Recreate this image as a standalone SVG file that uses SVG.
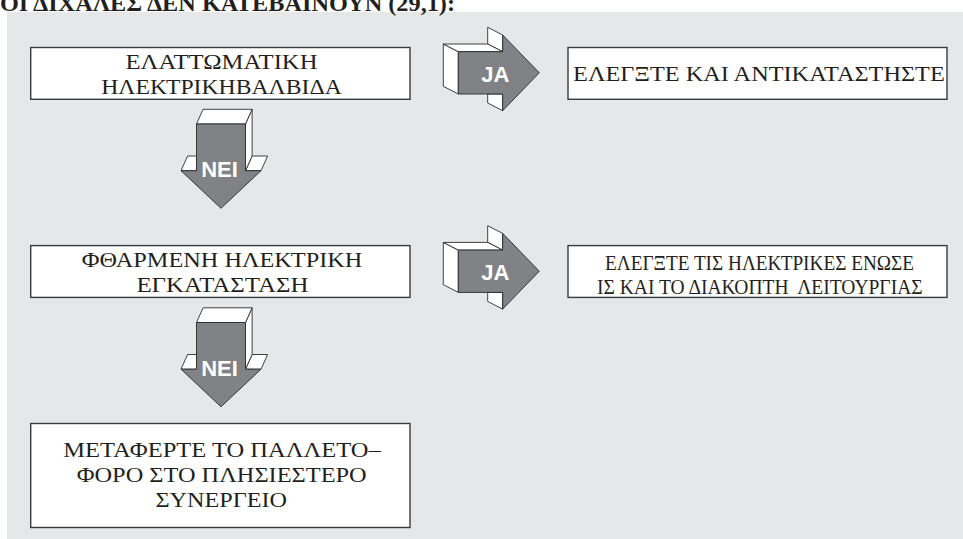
<svg xmlns="http://www.w3.org/2000/svg" width="963" height="539" viewBox="0 0 963 539">
<style>
.box{fill:#ffffff;stroke:#3a3a3a;stroke-width:1.4}
.t{font-family:"Liberation Serif","Times New Roman",serif;font-size:22px;fill:#231f20;text-anchor:middle}
.ts{font-family:"Liberation Serif","Times New Roman",serif;font-size:20px;fill:#231f20;text-anchor:middle;white-space:pre}
.front{fill:#808285;stroke:#2b2b2b;stroke-width:0.9;stroke-linejoin:miter}
.side{fill:#ffffff;stroke:#2b2b2b;stroke-width:0.9;stroke-linejoin:miter}
.lab{font-family:"Liberation Sans",Arial,sans-serif;font-weight:bold;font-size:22px;fill:#ffffff;text-anchor:middle}
.title{font-family:"Liberation Serif","Times New Roman",serif;font-weight:bold;font-size:24px;fill:#231f20}
</style>
<defs>
<g id="down">
<polygon class="side" points="181,170.7 187.6,156 196.5,156 196.5,170.7"/>
<polygon class="side" points="245.5,170.7 252.1,156 267.6,156 261,170.7"/>
<polygon class="side" points="245.5,124 252.1,109.3 252.1,156 245.5,170.7"/>
<polygon class="side" points="196.5,124 203.1,109.3 252.1,109.3 245.5,124"/>
<polygon class="front" points="196.5,124 245.5,124 245.5,170.7 261,170.7 221,208.3 181,170.7 196.5,170.7"/>
</g>
<g id="right">
<polygon class="side" points="502.7,35 487.7,27.3 487.7,44 502.7,51.7"/>
<polygon class="side" points="487.7,94 502.7,94 502.7,110.7 487.7,103"/>
<polygon class="side" points="458.3,51.7 443.3,44 443.3,86.3 458.3,94"/>
<polygon class="side" points="458.3,51.7 502.7,51.7 487.7,44 443.3,44"/>
<polygon class="front" points="458.3,51.7 502.7,51.7 502.7,35 539.3,72.8 502.7,110.7 502.7,94 458.3,94"/>
</g>
</defs>
<rect x="7" y="12" width="956" height="527" fill="#e6e7e8"/>
<text class="title" x="0" y="11" textLength="455" lengthAdjust="spacingAndGlyphs">ΟΙ ΔΙΧΑΛΕΣ ΔΕΝ ΚΑΤΕΒΑΙΝΟΥΝ (29,1):</text>
<g id="connectors">
<g id="arrow-nei-1"><use href="#down"/><text class="lab" x="219.5" y="177.3">NEI</text></g>
<g id="arrow-nei-2" transform="translate(0,198.5)"><use href="#down"/><text class="lab" x="219.5" y="177.3">NEI</text></g>
<g id="arrow-ja-1"><use href="#right"/><text class="lab" x="495.3" y="81.7">JA</text></g>
<g id="arrow-ja-2" transform="translate(0,198.4)"><use href="#right"/><text class="lab" x="495.3" y="81.7">JA</text></g>
</g>
<g id="node-valve">
<rect class="box" x="30.7" y="47.5" width="379.3" height="51.8"/>
<text class="t" x="221.5" y="68.7" textLength="192" lengthAdjust="spacingAndGlyphs">ΕΛΑΤΤΩΜΑΤΙΚΗ</text>
<text class="t" x="221.5" y="94" textLength="240.6" lengthAdjust="spacingAndGlyphs">ΗΛΕΚΤΡΙΚΗΒΑΛΒΙΔΑ</text>
</g>
<g id="node-replace">
<rect class="box" x="568" y="47.5" width="379" height="51.8"/>
<text class="t" x="758.9" y="80.8" textLength="371.7" lengthAdjust="spacingAndGlyphs">ΕΛΕΓΞΤΕ ΚΑΙ ΑΝΤΙΚΑΤΑΣΤΗΣΤΕ</text>
</g>
<g id="node-wiring">
<rect class="box" x="30.7" y="245.6" width="379.3" height="51.8"/>
<text class="t" x="222" y="266.7" textLength="280.7" lengthAdjust="spacingAndGlyphs">ΦΘΑΡΜΕΝΗ ΗΛΕΚΤΡΙΚΗ</text>
<text class="t" x="222.4" y="291.5" textLength="172" lengthAdjust="spacingAndGlyphs">ΕΓΚΑΤΑΣΤΑΣΗ</text>
</g>
<g id="node-check">
<rect class="box" x="568" y="245.6" width="379" height="51.8"/>
<text class="ts" x="759.5" y="270" textLength="309" lengthAdjust="spacingAndGlyphs">ΕΛΕΓΞΤΕ ΤΙΣ ΗΛΕΚΤΡΙΚΕΣ ΕΝΩΣΕ</text>
<text class="ts" x="759.8" y="294" textLength="325.6" lengthAdjust="spacingAndGlyphs">ΙΣ ΚΑΙ ΤΟ ΔΙΑΚΟΠΤΗ  ΛΕΙΤΟΥΡΓΙΑΣ</text>
</g>
<g id="node-workshop">
<rect class="box" x="30.7" y="423.5" width="379.3" height="104"/>
<text class="t" x="222" y="457" textLength="317.5" lengthAdjust="spacingAndGlyphs">ΜΕΤΑΦΕΡΤΕ ΤΟ ΠΑΛΛΕΤΟ–</text>
<text class="t" x="221.7" y="482" textLength="290" lengthAdjust="spacingAndGlyphs">ΦΟΡΟ ΣΤΟ ΠΛΗΣΙΕΣΤΕΡΟ</text>
<text class="t" x="221.2" y="507" textLength="131.5" lengthAdjust="spacingAndGlyphs">ΣΥΝΕΡΓΕΙΟ</text>
</g>
</svg>
